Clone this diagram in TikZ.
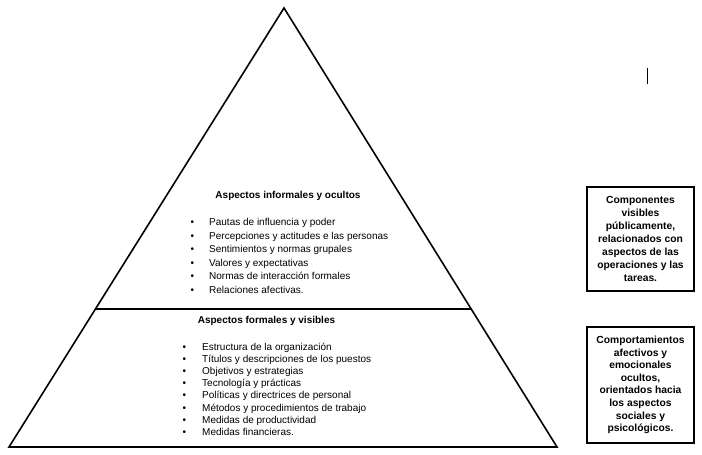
\documentclass[tikz,border=0pt]{standalone}
\usepackage{fontspec}
\setmainfont{Liberation Sans}
\usetikzlibrary{calc}
\begin{document}
\begin{tikzpicture}[x=1pt,y=-1pt,
  tri/.style={line width=1.6pt,line join=miter},
  divline/.style={line width=1.8pt},
  head/.style={font=\fontsize{10}{12}\selectfont\bfseries,inner sep=0pt},
  itemtxt/.style={font=\fontsize{10}{12}\selectfont,anchor=base west,inner sep=0pt},
  sidebox/.style={draw,line width=1.2pt,minimum width=107pt,inner sep=0pt,align=center},
]
\useasboundingbox (0,0) rectangle (702,455);
\fill[white] (0,0) rectangle (702,455);
\coordinate (apex) at (284,8);
\coordinate (bl) at (9,447);
\coordinate (br) at (557,447);
\draw[tri] (apex) -- (bl) -- (br) -- cycle;
\coordinate (dl) at ($(apex)!0.6856!(bl)$);
\coordinate (dr) at ($(apex)!0.6856!(br)$);
\draw[divline] (dl) -- (dr);

\node[head] (t1) at (288,196) {Aspectos informales y ocultos};
\foreach \t [count=\i] in {Pautas de influencia y poder,Percepciones y actitudes e las personas,Sentimientos y normas grupales,Valores y expectativas,Normas de interacción formales,Relaciones afectivas.}
  \node[itemtxt] (u\i) at (209,{225.5+13.6*(\i-1)}) {\llap{\textbullet\hspace{15pt}}\t};

\node[head] (t2) at (266.5,320.5) {Aspectos formales y visibles};
\foreach \t [count=\i] in {Estructura de la organización,Títulos y descripciones de los puestos,Objetivos y estrategias,Tecnología y prácticas,Políticas y directrices de personal,Métodos y procedimientos de trabajo,Medidas de productividad,Medidas financieras.}
  \node[itemtxt] (l\i) at (202,{350+12.2*(\i-1)}) {\llap{\textbullet\hspace{16pt}}\t};

\node[sidebox,minimum height=104pt,font=\fontsize{10.3}{13.1}\selectfont\bfseries] (b1) at (640.5,239)
  {Componentes\\visibles\\públicamente,\\relacionados con\\aspectos de las\\operaciones y las\\tareas.};
\node[sidebox,minimum height=116pt,font=\fontsize{10.3}{12.6}\selectfont\bfseries] (b2) at (640.5,385)
  {Comportamientos\\afectivos y\\emocionales\\ocultos,\\orientados hacia\\los aspectos\\sociales y\\psicológicos.};

\draw[line width=0.9pt] (647,68) -- (647,84);
\end{tikzpicture}
\end{document}
